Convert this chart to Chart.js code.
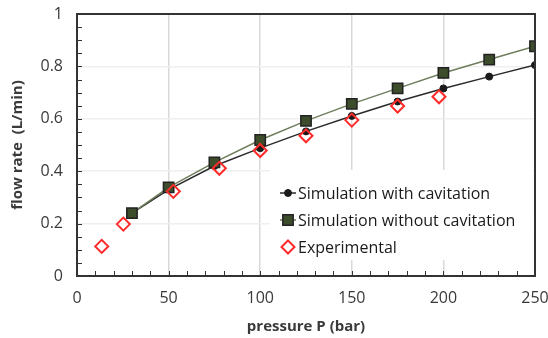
<!DOCTYPE html>
<html>
<head>
<meta charset="utf-8">
<script src="https://cdn.jsdelivr.net/npm/chart.js@4"></script>
<style>
  html, body { margin: 0; padding: 0; background: #fff; }
  #wrap { width: 548px; height: 338px; position: relative; }
</style>
</head>
<body>
<div id="wrap"><canvas id="c"></canvas></div>
<script>
// Pressure (bar) at which the simulations were run
const simPressure = [30, 50, 75, 100, 125, 150, 175, 200, 225, 250];
// Flow rate (L/min) from the simulation including cavitation
const simWithCav = [0.240, 0.330, 0.420, 0.488, 0.552, 0.611, 0.666, 0.716, 0.761, 0.805];
// Flow rate (L/min) from the simulation without cavitation
const simWithoutCav = [0.240, 0.338, 0.434, 0.519, 0.592, 0.657, 0.716, 0.775, 0.826, 0.877];
// Measured points
const expPressure = [13.5, 25.3, 52.6, 77.7, 100, 125, 150, 175, 197.6];
const expFlow = [0.113, 0.198, 0.323, 0.411, 0.479, 0.535, 0.595, 0.649, 0.684];

const xTicks = [0, 50, 100, 150, 200, 250];
const yTicks = [0, 0.2, 0.4, 0.6, 0.8, 1];
const seriesNames = ['Simulation with cavitation', 'Simulation without cavitation', 'Experimental'];

const FONT = "'Open Sans', 'DejaVu Sans', sans-serif";
const AXIS_COLOR = '#333333';

const pts = (xs, ys) => xs.map((x, i) => ({ x, y: ys[i] }));

// Keep tick labels from pushing the plot edges inward
function noOverflow(s) {
  s.paddingLeft = 0; s.paddingRight = 0; s.paddingTop = 0; s.paddingBottom = 0;
}

// Legend box geometry (inside the plot, lower right)
const LEG = { x: 270, y: 170, w: 263, h: 90, rows: [193, 220, 247], mark: 288, text: 298 };

function drawMarkerPath(ctx, style, r, x, y) {
  if (style === 'circle') {
    ctx.arc(x, y, r, 0, Math.PI * 2);
  } else if (style === 'rect') {
    const s = r / Math.SQRT2;
    ctx.rect(x - s, y - s, 2 * s, 2 * s);
  } else if (style === 'rectRot') {
    ctx.moveTo(x, y - r); ctx.lineTo(x + r, y); ctx.lineTo(x, y + r); ctx.lineTo(x - r, y); ctx.closePath();
  }
}

// White legend background hides the grid behind the legend
const legendBackground = {
  id: 'legendBackground',
  beforeDatasetsDraw(chart) {
    const { ctx } = chart;
    ctx.save();
    ctx.fillStyle = '#ffffff';
    ctx.fillRect(LEG.x, LEG.y, LEG.w, LEG.h);
    ctx.restore();
  }
};

// Legend entries drawn from the datasets' own styles
const legendEntries = {
  id: 'legendEntries',
  afterDatasetsDraw(chart) {
    const { ctx } = chart;
    ctx.save();
    chart.data.datasets.forEach((ds, i) => {
      const yy = LEG.rows[i];
      if (ds.showLine) {
        ctx.strokeStyle = ds.borderColor;
        ctx.lineWidth = ds.borderWidth;
        ctx.beginPath(); ctx.moveTo(LEG.mark - 8, yy); ctx.lineTo(LEG.mark + 8, yy); ctx.stroke();
      }
      ctx.fillStyle = ds.pointBackgroundColor;
      ctx.strokeStyle = ds.pointBorderColor;
      ctx.lineWidth = ds.pointBorderWidth;
      ctx.beginPath();
      drawMarkerPath(ctx, ds.pointStyle, ds.pointRadius, LEG.mark, yy);
      if (ds.pointBackgroundColor !== 'transparent') ctx.fill();
      ctx.stroke();
      ctx.fillStyle = '#1a1a1a';
      ctx.font = '16px ' + FONT;
      ctx.textBaseline = 'middle';
      ctx.textAlign = 'left';
      ctx.fillText(ds.label, LEG.text, yy + 1);
    });
    ctx.restore();
  }
};

// Frame around the plot plus small inward-pointing ticks
const framePlugin = {
  id: 'plotFrame',
  afterDraw(chart) {
    const { ctx, chartArea: a } = chart;
    const x = chart.scales.x, y = chart.scales.y;
    ctx.save();
    ctx.fillStyle = AXIS_COLOR;
    const L = Math.round(a.left), T = Math.round(a.top), R = Math.round(a.right), B = Math.round(a.bottom);
    ctx.fillRect(L - 1, T - 1, R - L + 2, 2);
    ctx.fillRect(L - 1, B - 1, R - L + 2, 2);
    ctx.fillRect(L - 1, T - 1, 2, B - T + 2);
    ctx.fillRect(R - 1, T - 1, 2, B - T + 2);
    for (let v = 10; v < 250; v += 10) {
      const px = Math.round(x.getPixelForValue(v));
      ctx.fillRect(px, B - 5, 1, 5);
    }
    for (let k = 1; k < 20; k++) {
      const py = Math.round(y.getPixelForValue(k * 0.05));
      ctx.fillRect(L, py, 5, 1);
    }
    ctx.restore();
  }
};

const edgeAxis = (position, axis) => ({
  type: 'linear',
  axis,
  position,
  min: 0,
  max: axis === 'x' ? 250 : 1,
  grid: { display: false, drawTicks: false },
  ticks: { display: false },
  border: { display: true, color: AXIS_COLOR, width: 1.5 },
  afterFit: (s) => { if (axis === 'x') s.height = 0; else s.width = 0; noOverflow(s); }
});

new Chart(document.getElementById('c'), {
  type: 'scatter',
  data: {
    datasets: [
      {
        label: seriesNames[0],
        data: pts(simPressure, simWithCav),
        showLine: true,
        borderColor: '#2a2a2a',
        borderWidth: 1.5,
        pointStyle: 'circle',
        pointRadius: 3.5,
        pointBorderWidth: 1,
        pointBackgroundColor: '#1a1a1a',
        pointBorderColor: '#1a1a1a',
        order: 2
      },
      {
        label: seriesNames[1],
        data: pts(simPressure, simWithoutCav),
        showLine: true,
        borderColor: '#6e7d5c',
        borderWidth: 1.5,
        pointStyle: 'rect',
        pointRadius: 7.3,
        pointBorderWidth: 1.5,
        pointBackgroundColor: '#3d4d2c',
        pointBorderColor: '#222222',
        order: 1
      },
      {
        label: seriesNames[2],
        data: pts(expPressure, expFlow),
        showLine: false,
        borderColor: '#ff2a2a',
        pointStyle: 'rectRot',
        pointRadius: 6.5,
        pointBorderWidth: 2,
        pointBackgroundColor: 'transparent',
        pointBorderColor: '#ff2a2a',
        order: 0
      }
    ]
  },
  options: {
    responsive: true,
    maintainAspectRatio: false,
    animation: false,
    layout: { autoPadding: false, padding: { left: 0, right: 13, top: 14, bottom: 0 } },
    plugins: { legend: { display: false }, tooltip: { enabled: false } },
    scales: {
      x: {
        type: 'linear',
        position: 'bottom',
        min: 0, max: 250,
        afterBuildTicks: (s) => { s.ticks = xTicks.map(v => ({ value: v })); },
        afterFit: (s) => { s.height = 62; noOverflow(s); },
        grid: {
          drawTicks: false,
          color: (c) => (c.tick && (c.tick.value === 0 || c.tick.value === 250)) ? 'transparent' : '#d9d9d9',
          lineWidth: 1.5
        },
        border: { display: true, color: AXIS_COLOR, width: 1.5 },
        ticks: { padding: 13, color: '#3a3a3a', font: { family: FONT, size: 16 } },
        title: {
          display: true,
          text: 'pressure P (bar)',
          color: '#3a3a3a',
          font: { family: FONT, size: 15, weight: 'bold' },
          padding: { top: 2, bottom: 2 }
        }
      },
      y: {
        type: 'linear',
        position: 'left',
        min: 0, max: 1,
        afterBuildTicks: (s) => { s.ticks = yTicks.map(v => ({ value: v })); },
        afterFit: (s) => { s.width = 77; noOverflow(s); },
        grid: {
          drawTicks: false,
          color: (c) => (c.tick && (c.tick.value === 0 || c.tick.value === 1)) ? 'transparent' : '#efefef',
          lineWidth: 1.5
        },
        border: { display: true, color: AXIS_COLOR, width: 1.5 },
        ticks: {
          padding: 14, color: '#3a3a3a', font: { family: FONT, size: 16 },
          callback: (v) => String(Math.round(v * 10) / 10)
        },
        title: {
          display: true,
          text: 'flow rate  (L/min)',
          color: '#3a3a3a',
          font: { family: FONT, size: 15, weight: 'bold' },
          padding: { top: 9, bottom: 0 }
        }
      },
      xTop: edgeAxis('top', 'x'),
      yRight: edgeAxis('right', 'y')
    }
  },
  plugins: [legendBackground, legendEntries, framePlugin]
});
</script>
</body>
</html>
